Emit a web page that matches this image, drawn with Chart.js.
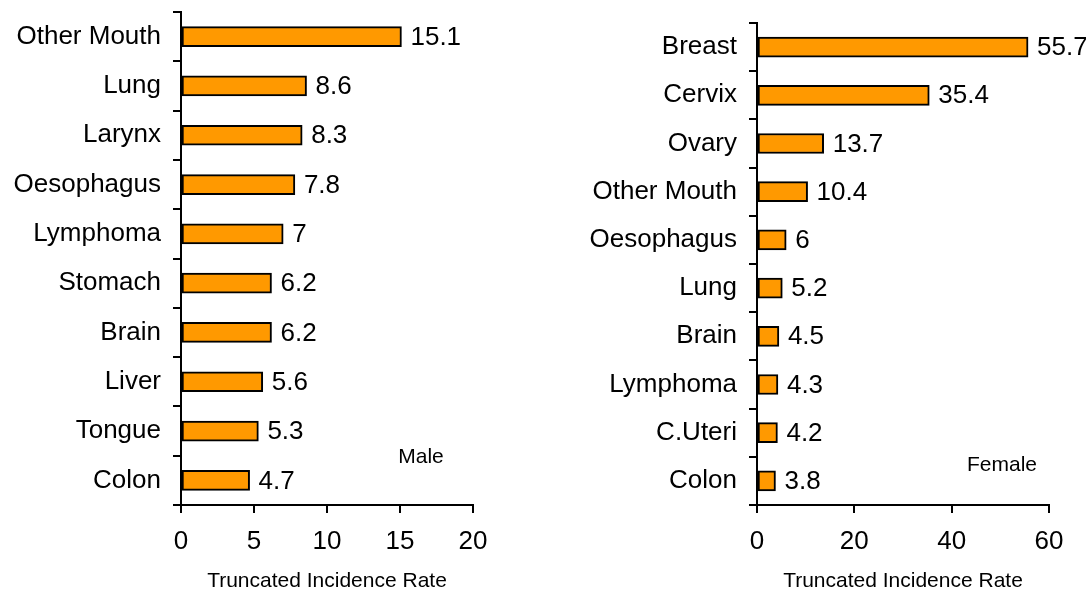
<!DOCTYPE html>
<html>
<head>
<meta charset="utf-8">
<script src="https://cdn.jsdelivr.net/npm/chart.js@4/dist/chart.umd.min.js"></script>
<style>
    html, body { margin: 0; padding: 0; background: #fff; }
    #wrap { position: relative; width: 1086px; height: 594px; }
    .box { position: absolute; top: 0; height: 594px; }
</style>
</head>
<body>
<div id="wrap">
    <div class="box" style="left:0;width:540px;"><canvas id="male"></canvas></div>
    <div class="box" style="left:540px;width:546px;"><canvas id="female"></canvas></div>
</div>
<script>
const maleSites = ["Other Mouth", "Lung", "Larynx", "Oesophagus", "Lymphoma", "Stomach", "Brain", "Liver", "Tongue", "Colon"];
const maleRates = [15.1, 8.6, 8.3, 7.8, 7, 6.2, 6.2, 5.6, 5.3, 4.7];
const femaleSites = ["Breast", "Cervix", "Ovary", "Other Mouth", "Oesophagus", "Lung", "Brain", "Lymphoma", "C.Uteri", "Colon"];
const femaleRates = [55.7, 35.4, 13.7, 10.4, 6, 5.2, 4.5, 4.3, 4.2, 3.8];
const maleTicks = [0, 5, 10, 15, 20];
const femaleTicks = [0, 20, 40, 60];

const FONT = "'Liberation Sans', Arial, sans-serif";
const ORANGE = "#FF9900";

// value labels at bar ends plus the corner note ("Male"/"Female")
const valueLabels = {
    id: "valueLabels",
    afterDatasetsDraw(chart, args, opts) {
        const ctx = chart.ctx;
        const meta = chart.getDatasetMeta(0);
        ctx.save();
        ctx.fillStyle = "#000";
        ctx.font = "26px " + FONT;
        ctx.textAlign = "left";
        ctx.textBaseline = "middle";
        meta.data.forEach((bar, i) => {
            ctx.fillText(String(chart.data.datasets[0].data[i]), bar.x + 9, bar.y + 1);
        });
        ctx.font = "21px " + FONT;
        ctx.textAlign = "center";
        ctx.fillText(opts.note, opts.noteX, opts.noteY);
        ctx.restore();
    },
};

function makeChart(id, sites, rates, ticks, pad, yWidth, note, noteX, noteY) {
    return new Chart(document.getElementById(id), {
        type: "bar",
        data: {
            labels: sites,
            datasets: [{
                data: rates,
                backgroundColor: ORANGE,
                borderColor: "#000",
                borderWidth: 2,
                borderSkipped: false,
                barThickness: 20,
            }],
        },
        options: {
            indexAxis: "y",
            responsive: true,
            maintainAspectRatio: false,
            animation: false,
            layout: { padding: pad },
            plugins: {
                legend: { display: false },
                tooltip: { enabled: false },
                valueLabels: { note: note, noteX: noteX, noteY: noteY },
            },
            scales: {
                x: {
                    min: ticks[0],
                    max: ticks[ticks.length - 1],
                    afterBuildTicks: (s) => { s.ticks = ticks.map(v => ({ value: v })); },
                    afterFit: (s) => { s.height = 89; s.paddingLeft = 0; s.paddingRight = 0; },
                    grid: { drawOnChartArea: false, color: "#000", lineWidth: 2, tickLength: 8 },
                    border: { color: "#000", width: 2 },
                    ticks: { color: "#000", font: { family: FONT, size: 26 }, padding: 13, maxRotation: 0 },
                    title: { display: true, text: "Truncated Incidence Rate", color: "#000",
                             font: { family: FONT, size: 21 }, padding: { top: 0, bottom: 0 } },
                },
                y: {
                    afterFit: (s) => { s.width = yWidth; s.paddingTop = 0; s.paddingBottom = 0; },
                    grid: { drawOnChartArea: false, color: "#000", lineWidth: 2, tickLength: 8, offset: true },
                    border: { color: "#000", width: 2 },
                    ticks: { color: "#000", font: { family: FONT, size: 26 }, padding: 12 },
                },
            },
        },
        plugins: [valueLabels],
    });
}

makeChart("male", maleSites, maleRates, maleTicks,
    { top: 12, right: 67, bottom: 0, left: 0 }, 181, "Male", 421, 457);
makeChart("female", femaleSites, femaleRates, femaleTicks,
    { top: 23, right: 37, bottom: 0, left: 0 }, 217, "Female", 462, 465);
</script>
</body>
</html>
